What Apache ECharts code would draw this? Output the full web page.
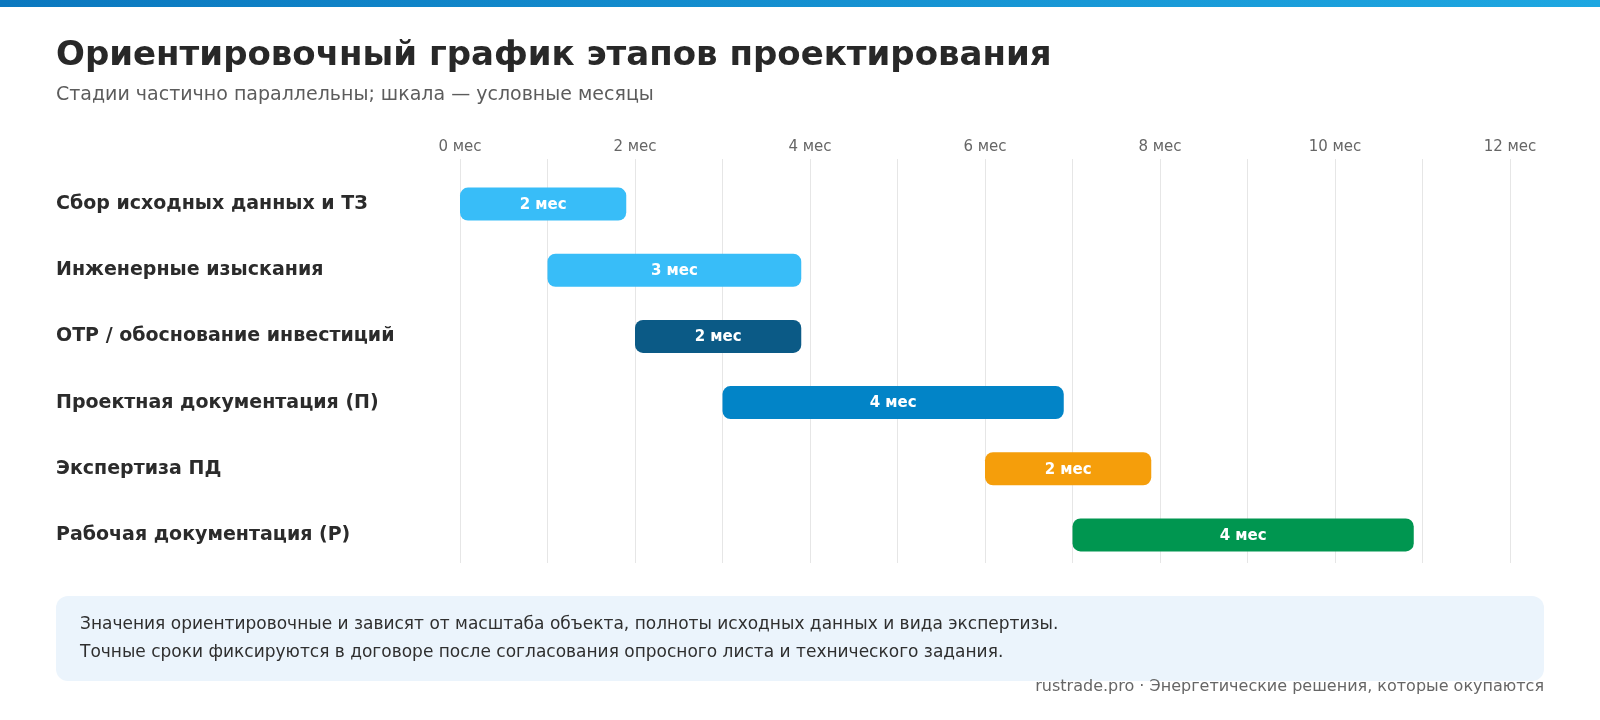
<!DOCTYPE html>
<html lang="ru">
<head>
    <meta charset="UTF-8">
    <title>График этапов проектирования</title>
    <script src="https://cdn.jsdelivr.net/npm/echarts@6/dist/echarts.min.js"></script>
    <style>
        html, body { margin: 0; padding: 0; background: #fff; }
        #main { width: 1600px; height: 720px; }
    </style>
</head>
<body>
<div id="main"></div>

<script type="text/javascript">
    // этапы сверху вниз
    var stages = [
        'Сбор исходных данных и ТЗ',
        'Инженерные изыскания',
        'ОТР / обоснование инвестиций',
        'Проектная документация (П)',
        'Экспертиза ПД',
        'Рабочая документация (Р)'
    ];
    var starts = [0, 1, 2, 3, 6, 7];      // месяц начала
    var durations = [2, 3, 2, 4, 2, 4];   // длительность, мес
    var colors = ['#38BDF8', '#38BDF8', '#0B5A86', '#0284C7', '#F59E0B', '#009650'];
    var monthTicks = [0, 2, 4, 6, 8, 10, 12];

    var GAP = 0.1; // небольшой зазор в конце полосы
    var FONT = 'DejaVu Sans';

    var barData = [];
    for (var i = 0; i < stages.length; i++) {
        barData.push({
            value: durations[i] - GAP,
            label: {formatter: durations[i] + ' мес'},
            itemStyle: {color: colors[i]}
        });
    }

    var myChart = echarts.init(document.getElementById('main'));

    var option = {
        backgroundColor: '#ffffff',
        animation: false,
        textStyle: {fontFamily: FONT},
        title: {
            text: 'Ориентировочный график этапов проектирования',
            subtext: 'Стадии частично параллельны; шкала — условные месяцы',
            left: 56,
            top: 39,
            padding: 0,
            itemGap: 13,
            textStyle: {fontFamily: FONT, fontSize: 34, fontWeight: 'bold', color: '#282828'},
            subtextStyle: {fontFamily: FONT, fontSize: 19, color: '#5c5c5c'}
        },
        grid: [
            {left: 460, right: 90, top: 159, bottom: 157},  // сетка
            {left: 460, right: 90, top: 171, bottom: 152}   // полосы
        ],
        xAxis: [{
            gridIndex: 0,
            type: 'value',
            position: 'top',
            min: 0,
            max: 12,
            interval: 1,
            axisLine: {show: false},
            axisTick: {show: false},
            axisLabel: {
                margin: 4,
                color: '#666',
                fontSize: 15,
                fontFamily: FONT,
                formatter: function (v) {
                    return monthTicks.indexOf(v) >= 0 ? v + ' мес' : '';
                }
            },
            splitLine: {lineStyle: {color: '#e6e6e6', width: 1}}
        }, {
            gridIndex: 1,
            type: 'value',
            min: 0,
            max: 12,
            show: false
        }],
        yAxis: [{
            gridIndex: 0,
            type: 'value',
            show: false
        }, {
            gridIndex: 1,
            type: 'category',
            inverse: true,
            data: stages,
            axisLine: {show: false},
            axisTick: {show: false},
            axisLabel: {
                margin: 404,
                align: 'left',
                color: '#2b2b2b',
                fontSize: 19,
                fontWeight: 'bold',
                fontFamily: FONT
            }
        }],
        series: [{
            name: 'offset',
            type: 'bar',
            xAxisIndex: 1,
            yAxisIndex: 1,
            stack: 'gantt',
            barWidth: 33,
            silent: true,
            itemStyle: {color: 'transparent'},
            data: starts
        }, {
            name: 'duration',
            type: 'bar',
            xAxisIndex: 1,
            yAxisIndex: 1,
            stack: 'gantt',
            barWidth: 33,
            itemStyle: {borderRadius: 8},
            label: {
                show: true,
                position: 'inside',
                offset: [0, 1],
                color: '#fff',
                fontSize: 15,
                fontWeight: 'bold',
                fontFamily: FONT
            },
            data: barData
        }],
        graphic: [{
            type: 'rect',
            left: 0,
            top: 0,
            shape: {width: 1600, height: 7},
            style: {
                fill: new echarts.graphic.LinearGradient(0, 0, 1, 0, [
                    {offset: 0, color: '#0B78BF'},
                    {offset: 1, color: '#1EA7E1'}
                ])
            }
        }, {
            type: 'rect',
            left: 56,
            top: 596,
            shape: {width: 1488, height: 85, r: 12},
            style: {fill: '#EBF4FC'}
        }, {
            type: 'text',
            left: 80,
            top: 611,
            style: {
                text: 'Значения ориентировочные и зависят от масштаба объекта, полноты исходных данных и вида экспертизы.\nТочные сроки фиксируются в договоре после согласования опросного листа и технического задания.',
                fontFamily: FONT,
                fontSize: 17,
                lineHeight: 28,
                fill: '#2f2f2f'
            }
        }, {
            type: 'text',
            right: 56,
            top: 679,
            style: {
                text: 'rustrade.pro · Энергетические решения, которые окупаются',
                fontFamily: FONT,
                fontSize: 16,
                fill: '#666'
            }
        }]
    };

    myChart.setOption(option);
</script>
</body>
</html>
